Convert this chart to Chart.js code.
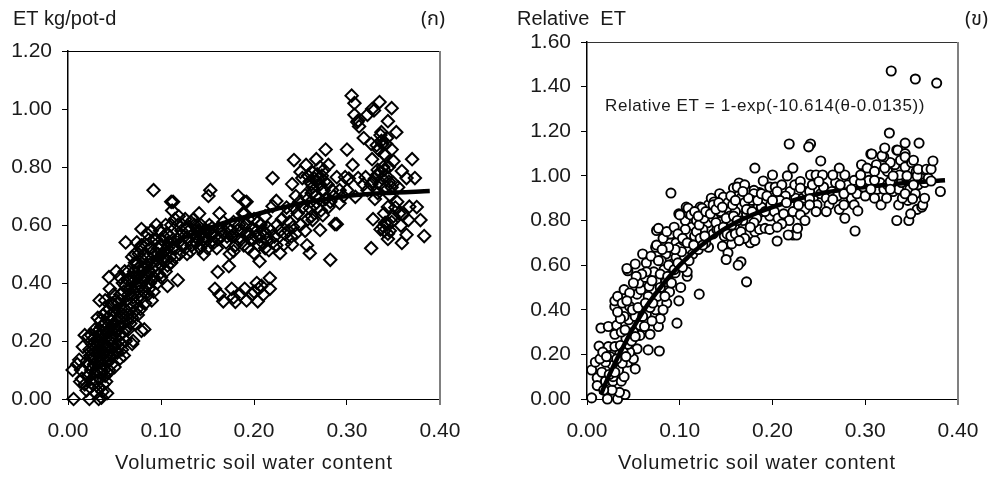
<!DOCTYPE html>
<html>
<head>
<meta charset="utf-8">
<style>
html, body { margin: 0; padding: 0; background: #fff; }
#wrap { position: relative; width: 997px; height: 479px; overflow: hidden; }
canvas { position: absolute; top: 0; }
#chartA { left: 0; }
#chartB { left: 498px; }
</style>
<script src="https://cdn.jsdelivr.net/npm/chart.js@4"></script>
</head>
<body>
<div id="wrap">
    <canvas id="chartA" width="498" height="479"></canvas>
    <canvas id="chartB" width="499" height="479"></canvas>
</div>
<script>
// values: [soil water content, ET]
const pointsA = [
    [0.006,0.00],[0.005,0.10],[0.010,0.12],[0.012,0.135],[0.014,0.10],[0.016,0.18],[0.018,0.22],[0.022,0.215],[0.015,0.07],[0.013,0.06],
    [0.020,0.03],[0.023,0.00],[0.033,0.00],[0.036,0.005],[0.042,0.02],[0.037,0.025],[0.030,0.02],[0.027,0.05],[0.018,0.05],[0.022,0.08],
    [0.025,0.10],[0.028,0.12],[0.020,0.13],[0.024,0.15],[0.027,0.17],[0.030,0.14],[0.032,0.10],[0.034,0.07],[0.038,0.05],[0.040,0.08],
    [0.036,0.10],[0.035,0.13],[0.033,0.16],[0.031,0.19],[0.028,0.21],[0.026,0.19],[0.033,0.22],[0.036,0.19],[0.039,0.16],[0.041,0.13],
    [0.044,0.10],[0.047,0.12],[0.050,0.11],[0.045,0.15],[0.043,0.18],[0.041,0.21],[0.038,0.23],[0.036,0.25],[0.040,0.26],[0.044,0.24],
    [0.047,0.21],[0.050,0.18],[0.053,0.16],[0.056,0.14],[0.058,0.17],[0.060,0.15],[0.055,0.20],[0.052,0.23],[0.049,0.26],[0.046,0.29],
    [0.043,0.28],[0.032,0.28],[0.034,0.34],[0.040,0.34],[0.044,0.42],[0.052,0.44],[0.045,0.38],[0.048,0.33],[0.050,0.30],[0.053,0.27],
    [0.056,0.25],[0.059,0.23],[0.062,0.20],[0.069,0.19],[0.070,0.20],[0.079,0.235],[0.082,0.24],[0.065,0.24],[0.063,0.27],[0.060,0.29],
    [0.057,0.31],[0.054,0.33],[0.056,0.36],[0.060,0.37],[0.063,0.34],[0.066,0.31],[0.069,0.28],[0.072,0.26],[0.075,0.29],[0.078,0.31],
    [0.073,0.33],[0.070,0.35],[0.067,0.38],[0.064,0.41],[0.067,0.42],[0.070,0.42],[0.073,0.39],[0.076,0.37],[0.079,0.35],[0.083,0.33],
    [0.086,0.36],[0.090,0.34],[0.092,0.37],[0.088,0.40],[0.084,0.42],[0.080,0.44],[0.076,0.45],[0.072,0.47],[0.069,0.49],[0.072,0.50],
    [0.076,0.50],[0.080,0.48],[0.084,0.46],[0.088,0.44],[0.092,0.42],[0.096,0.40],[0.100,0.42],[0.107,0.39],[0.118,0.41],[0.105,0.44],
    [0.100,0.46],[0.096,0.48],[0.092,0.50],[0.088,0.52],[0.084,0.53],[0.079,0.53],[0.074,0.54],[0.062,0.54],[0.079,0.586],[0.087,0.55],
    [0.092,0.55],[0.097,0.52],[0.101,0.50],[0.106,0.48],[0.111,0.47],[0.115,0.49],[0.112,0.52],[0.108,0.54],[0.103,0.56],[0.099,0.58],
    [0.095,0.60],[0.090,0.58],[0.085,0.57],[0.092,0.72],[0.111,0.68],[0.113,0.68],[0.151,0.70],[0.153,0.72],[0.183,0.70],[0.190,0.68],
    [0.163,0.64],[0.141,0.64],[0.188,0.64],[0.105,0.60],[0.111,0.60],[0.115,0.62],[0.112,0.65],[0.118,0.60],[0.122,0.58],[0.118,0.55],
    [0.124,0.53],[0.128,0.50],[0.132,0.51],[0.125,0.56],[0.128,0.59],[0.132,0.61],[0.136,0.60],[0.135,0.57],[0.138,0.54],[0.142,0.52],
    [0.146,0.50],[0.150,0.52],[0.145,0.55],[0.148,0.58],[0.143,0.60],[0.152,0.60],[0.156,0.57],[0.154,0.54],[0.160,0.52],[0.158,0.56],
    [0.162,0.59],[0.167,0.61],[0.165,0.56],[0.170,0.54],[0.174,0.50],[0.178,0.51],[0.176,0.56],[0.172,0.59],[0.178,0.61],[0.182,0.58],
    [0.186,0.55],[0.180,0.53],[0.173,0.458],[0.161,0.438],[0.158,0.38],[0.163,0.36],[0.167,0.337],[0.176,0.38],[0.178,0.35],[0.180,0.335],
    [0.190,0.38],[0.192,0.34],[0.185,0.36],[0.217,0.417],[0.203,0.40],[0.205,0.38],[0.217,0.38],[0.204,0.337],[0.198,0.36],[0.208,0.39],
    [0.200,0.37],[0.210,0.36],[0.192,0.57],[0.196,0.55],[0.198,0.59],[0.202,0.56],[0.205,0.53],[0.200,0.503],[0.206,0.475],[0.210,0.58],
    [0.214,0.55],[0.216,0.513],[0.218,0.58],[0.222,0.56],[0.225,0.60],[0.228,0.503],[0.232,0.533],[0.241,0.533],[0.257,0.53],[0.260,0.503],
    [0.282,0.48],[0.192,0.68],[0.190,0.64],[0.200,0.62],[0.207,0.60],[0.212,0.63],[0.220,0.665],[0.224,0.683],[0.235,0.66],[0.247,0.64],
    [0.230,0.62],[0.238,0.61],[0.242,0.593],[0.250,0.60],[0.255,0.58],[0.260,0.658],[0.263,0.617],[0.271,0.583],[0.274,0.634],[0.280,0.662],
    [0.287,0.603],[0.289,0.603],[0.292,0.675],[0.309,0.697],[0.255,0.703],[0.270,0.69],[0.275,0.72],[0.284,0.72],[0.292,0.72],[0.241,0.741],
    [0.262,0.741],[0.250,0.783],[0.252,0.762],[0.268,0.775],[0.271,0.80],[0.275,0.79],[0.256,0.807],[0.280,0.807],[0.243,0.824],[0.267,0.827],
    [0.277,0.86],[0.300,0.86],[0.220,0.762],[0.265,0.76],[0.260,0.75],[0.289,0.765],[0.298,0.765],[0.302,0.76],[0.306,0.807],[0.312,0.762],
    [0.320,0.765],[0.332,0.772],[0.340,0.79],[0.345,0.80],[0.338,0.76],[0.328,0.75],[0.335,0.74],[0.327,0.827],[0.341,0.84],[0.350,0.82],
    [0.370,0.827],[0.359,0.786],[0.364,0.762],[0.373,0.762],[0.350,0.745],[0.355,0.73],[0.346,0.703],[0.330,0.69],[0.354,0.68],[0.344,0.662],
    [0.375,0.662],[0.367,0.663],[0.360,0.635],[0.350,0.63],[0.328,0.62],[0.366,0.617],[0.379,0.617],[0.341,0.607],[0.358,0.598],[0.336,0.585],
    [0.344,0.57],[0.339,0.595],[0.364,0.566],[0.383,0.562],[0.359,0.538],[0.344,0.552],[0.326,0.52],[0.305,1.046],[0.308,1.02],[0.308,0.98],
    [0.312,0.96],[0.313,0.94],[0.311,0.955],[0.322,0.98],[0.327,1.00],[0.329,0.995],[0.335,1.024],[0.348,1.003],[0.344,0.958],[0.353,0.92],
    [0.337,0.92],[0.336,0.91],[0.343,0.90],[0.318,0.90],[0.326,0.88],[0.332,0.875],[0.337,0.89],[0.340,0.845],[0.348,0.86],[0.334,0.86],
    // dense parts of the cloud, read more roughly
    [0.024,0.04],[0.026,0.07],[0.029,0.09],[0.031,0.06],[0.033,0.04],[0.035,0.09],[0.037,0.12],[0.039,0.10],[0.041,0.06],[0.043,0.09],
    [0.029,0.16],[0.032,0.13],[0.034,0.15],[0.036,0.17],[0.038,0.14],[0.040,0.18],[0.042,0.15],[0.044,0.13],[0.046,0.17],[0.048,0.15],
    [0.031,0.23],[0.034,0.24],[0.037,0.21],[0.039,0.19],[0.042,0.23],[0.045,0.20],[0.048,0.19],[0.051,0.21],[0.054,0.18],[0.057,0.19],
    [0.035,0.27],[0.038,0.29],[0.041,0.30],[0.044,0.31],[0.047,0.27],[0.050,0.25],[0.053,0.24],[0.056,0.22],[0.059,0.26],[0.062,0.24],
    [0.023,0.12],[0.026,0.14],[0.023,0.17],[0.025,0.22],[0.029,0.24],[0.030,0.18],[0.046,0.33],[0.049,0.36],[0.052,0.34],[0.055,0.30],
    [0.058,0.28],[0.061,0.31],[0.064,0.29],[0.067,0.26],[0.071,0.30],[0.074,0.31],[0.068,0.33],[0.065,0.36],[0.062,0.39],[0.059,0.40],
    [0.056,0.42],[0.061,0.44],[0.065,0.44],[0.069,0.40],[0.072,0.37],[0.075,0.35],[0.078,0.39],[0.081,0.37],[0.084,0.39],[0.087,0.38],
    [0.082,0.41],[0.079,0.42],[0.075,0.42],[0.071,0.44],[0.074,0.47],[0.078,0.46],[0.082,0.45],[0.086,0.43],[0.090,0.41],[0.094,0.44],
    [0.098,0.43],[0.094,0.46],[0.090,0.47],[0.086,0.49],[0.082,0.50],[0.078,0.52],[0.097,0.50],[0.103,0.48],[0.107,0.46],[0.110,0.49],
    [0.104,0.51],[0.107,0.52],[0.100,0.53],[0.095,0.55],[0.101,0.55],[0.106,0.57],[0.110,0.56],[0.113,0.54],[0.116,0.52],[0.120,0.50],
    [0.122,0.53],[0.126,0.52],[0.120,0.56],[0.123,0.60],[0.119,0.63],[0.126,0.62],[0.130,0.55],[0.133,0.53],[0.137,0.56],[0.140,0.55],
    [0.141,0.58],[0.144,0.57],[0.147,0.56],[0.150,0.55],[0.153,0.57],[0.155,0.59],[0.151,0.58],[0.147,0.54],[0.143,0.53],[0.139,0.58],
    [0.135,0.62],[0.139,0.60],[0.157,0.54],[0.161,0.55],[0.164,0.58],[0.168,0.58],[0.171,0.56],[0.175,0.58],[0.179,0.56],[0.183,0.55],
    [0.187,0.58],[0.191,0.60],[0.195,0.57],[0.199,0.55],[0.203,0.58],[0.206,0.56],[0.209,0.54],[0.212,0.57],[0.215,0.59],[0.220,0.54],
    [0.184,0.60],[0.194,0.62],[0.204,0.61],[0.189,0.53],[0.194,0.52],[0.212,0.52],[0.224,0.53],[0.228,0.58],[0.233,0.57],[0.237,0.58],
    [0.240,0.56],[0.245,0.57],[0.236,0.64],[0.243,0.66],[0.249,0.68],[0.245,0.70],[0.252,0.66],[0.258,0.69],[0.262,0.71],[0.266,0.70],
    [0.263,0.73],[0.267,0.75],[0.271,0.74],[0.258,0.77],[0.263,0.78],[0.269,0.76],[0.273,0.77],[0.276,0.75],[0.279,0.74],[0.268,0.66],
    [0.262,0.63],[0.258,0.62],[0.265,0.67],[0.272,0.65],[0.277,0.69],[0.282,0.68],[0.286,0.70],[0.296,0.70],[0.300,0.72],[0.318,0.74],
    [0.322,0.72],[0.326,0.74],[0.330,0.76],[0.333,0.79],[0.336,0.78],[0.339,0.80],[0.342,0.77],[0.345,0.75],[0.348,0.73],[0.342,0.73],
    [0.333,0.71],[0.340,0.64],[0.343,0.60],[0.346,0.58],[0.348,0.61],[0.340,0.58],[0.352,0.66],[0.356,0.64],[0.338,0.88],[0.342,0.88]
];
const pointsB = [
    [0.005,0.005],[0.022,0.00],[0.033,0.00],[0.041,0.02],[0.035,0.03],[0.027,0.04],[0.005,0.13],[0.009,0.165],[0.011,0.095],[0.011,0.06],
    [0.020,0.08],[0.018,0.04],[0.028,0.08],[0.037,0.08],[0.040,0.10],[0.034,0.13],[0.044,0.165],[0.027,0.155],[0.020,0.165],[0.013,0.237],
    [0.023,0.235],[0.030,0.235],[0.050,0.18],[0.052,0.135],[0.066,0.22],[0.078,0.215],[0.054,0.225],[0.046,0.21],[0.044,0.245],[0.015,0.318],
    [0.023,0.325],[0.032,0.33],[0.030,0.29],[0.045,0.355],[0.040,0.37],[0.047,0.29],[0.057,0.285],[0.057,0.33],[0.062,0.325],[0.068,0.29],
    [0.077,0.325],[0.079,0.36],[0.074,0.40],[0.097,0.34],[0.086,0.43],[0.099,0.44],[0.121,0.47],[0.089,0.48],[0.101,0.50],[0.076,0.46],
    [0.066,0.46],[0.054,0.47],[0.046,0.415],[0.030,0.415],[0.030,0.44],[0.033,0.46],[0.040,0.49],[0.046,0.475],[0.058,0.49],[0.056,0.52],
    [0.063,0.545],[0.067,0.505],[0.075,0.53],[0.072,0.57],[0.085,0.525],[0.095,0.565],[0.108,0.55],[0.108,0.57],[0.044,0.575],[0.043,0.585],
    [0.052,0.605],[0.060,0.65],[0.064,0.61],[0.069,0.64],[0.074,0.68],[0.075,0.69],[0.085,0.65],[0.092,0.605],[0.096,0.635],[0.090,0.70],
    [0.096,0.70],[0.114,0.65],[0.120,0.67],[0.110,0.62],[0.075,0.755],[0.077,0.765],[0.090,0.74],[0.106,0.80],[0.099,0.83],[0.107,0.86],
    [0.110,0.83],[0.113,0.77],[0.110,0.74],[0.106,0.76],[0.119,0.71],[0.130,0.79],[0.122,0.86],[0.131,0.87],[0.134,0.90],[0.143,0.92],
    [0.150,0.88],[0.144,0.84],[0.136,0.81],[0.144,0.795],[0.136,0.74],[0.131,0.68],[0.148,0.73],[0.159,0.77],[0.146,0.685],[0.156,0.695],
    [0.152,0.655],[0.150,0.625],[0.166,0.615],[0.163,0.60],[0.172,0.525],[0.176,0.70],[0.181,0.71],[0.181,0.75],[0.186,0.76],[0.163,0.915],
    [0.175,0.93],[0.158,0.945],[0.186,0.925],[0.175,0.87],[0.165,0.86],[0.186,0.835],[0.154,0.82],[0.0905,0.923],[0.181,1.035],[0.164,0.968],
    [0.162,0.95],[0.180,0.935],[0.180,0.92],[0.147,0.905],[0.137,0.883],[0.152,0.88],[0.166,0.90],[0.124,0.855],[0.109,0.855],[0.100,0.825],
    [0.112,0.825],[0.136,0.87],[0.028,0.10],[0.025,0.19],[0.035,0.20],[0.038,0.16],[0.042,0.27],[0.037,0.30],[0.052,0.37],[0.050,0.30],
    [0.060,0.41],[0.064,0.38],[0.070,0.35],[0.083,0.58],[0.080,0.62],[0.088,0.60],[0.100,0.68],[0.104,0.71],[0.116,0.73],[0.125,0.76],
    [0.128,0.70],[0.140,0.76],[0.153,0.79],[0.168,0.80],[0.172,0.83],[0.160,0.84],[0.178,0.89],[0.170,0.96],[0.155,0.91],[0.118,0.80],
    [0.190,0.977],[0.197,0.95],[0.200,1.004],[0.216,1.00],[0.218,1.143],[0.222,1.035],[0.210,0.96],[0.205,0.93],[0.190,0.89],[0.200,0.89],
    [0.230,0.975],[0.230,0.945],[0.228,0.87],[0.215,0.88],[0.197,0.82],[0.192,0.765],[0.210,0.785],[0.205,0.77],[0.197,0.76],[0.222,0.735],
    [0.226,0.735],[0.217,0.735],[0.205,0.708],[0.230,0.825],[0.235,0.80],[0.227,0.765],[0.241,1.143],[0.239,1.13],[0.252,1.067],[0.241,1.004],
    [0.247,1.004],[0.254,1.004],[0.265,1.004],[0.278,1.004],[0.272,1.035],[0.243,0.96],[0.250,0.975],[0.240,0.897],[0.240,0.87],[0.247,0.84],
    [0.265,0.895],[0.277,0.92],[0.277,0.87],[0.273,0.96],[0.285,0.94],[0.292,0.843],[0.278,0.81],[0.289,0.753],[0.295,0.97],[0.295,1.004],
    [0.296,1.05],[0.302,1.035],[0.306,1.098],[0.307,1.098],[0.310,1.02],[0.310,0.98],[0.306,0.94],[0.310,0.90],[0.317,0.87],[0.323,0.90],
    [0.320,1.085],[0.318,1.09],[0.321,1.125],[0.321,1.035],[0.326,1.192],[0.327,0.975],[0.327,0.94],[0.328,1.47],[0.334,1.116],[0.335,1.115],
    [0.337,1.004],[0.340,0.90],[0.343,1.147],[0.343,1.10],[0.343,1.085],[0.343,1.04],[0.343,0.92],[0.345,1.00],[0.347,0.80],[0.349,0.83],
    [0.334,0.80],[0.350,1.06],[0.351,0.897],[0.352,1.07],[0.352,0.96],[0.354,1.434],[0.355,1.02],[0.356,1.00],[0.357,1.03],[0.358,1.147],
    [0.361,0.86],[0.362,0.87],[0.364,0.90],[0.366,1.03],[0.371,1.03],[0.371,0.977],[0.373,1.067],[0.377,1.416],[0.381,0.93],[0.330,1.00]
];
// dense parts of the right cloud, read more roughly; these stay behind the line
const pointsBDense = [
    [0.016,0.12],[0.014,0.18],[0.017,0.21],[0.021,0.19],[0.024,0.11],[0.030,0.12],[0.032,0.18],[0.036,0.24],[0.039,0.21],[0.042,0.19],
    [0.048,0.26],[0.052,0.28],[0.041,0.31],[0.036,0.36],[0.033,0.39],[0.038,0.43],[0.043,0.44],[0.049,0.40],[0.055,0.41],[0.060,0.37],
    [0.063,0.43],[0.068,0.41],[0.071,0.43],[0.082,0.40],[0.084,0.46],[0.079,0.50],[0.070,0.53],[0.064,0.57],[0.059,0.56],[0.053,0.55],
    [0.050,0.52],[0.079,0.56],[0.087,0.55],[0.091,0.52],[0.094,0.58],[0.098,0.61],[0.103,0.59],[0.105,0.64],[0.102,0.66],[0.095,0.67],
    [0.088,0.68],[0.081,0.67],[0.077,0.62],[0.082,0.72],[0.086,0.75],[0.094,0.77],[0.098,0.74],[0.103,0.72],[0.108,0.70],[0.115,0.69],
    [0.118,0.75],[0.122,0.72],[0.125,0.69],[0.127,0.73],[0.121,0.78],[0.126,0.81],[0.116,0.84],[0.120,0.82],[0.128,0.84],[0.133,0.83],
    [0.139,0.79],[0.142,0.76],[0.147,0.77],[0.151,0.74],[0.155,0.73],[0.160,0.74],[0.156,0.78],[0.150,0.81],[0.158,0.82],[0.162,0.80],
    [0.139,0.85],[0.142,0.88],[0.146,0.86],[0.157,0.87],[0.160,0.89],[0.170,0.88],[0.174,0.90],[0.168,0.93],[0.172,0.85],[0.178,0.84],
    [0.183,0.81],[0.180,0.79],[0.176,0.77],[0.166,0.75],[0.170,0.72],[0.164,0.71],[0.188,0.86],[0.192,0.84],[0.184,0.89],[0.188,0.92],
    [0.194,0.91],[0.198,0.87],[0.202,0.84],[0.206,0.81],[0.212,0.83],[0.218,0.80],[0.222,0.84],[0.225,0.90],[0.219,0.93],[0.214,0.91],
    [0.208,0.89],[0.203,0.95],[0.224,0.96],[0.233,0.90],[0.236,0.93],[0.235,0.85],[0.240,0.93],[0.244,0.90],[0.248,0.87],[0.252,0.92],
    [0.255,0.95],[0.258,0.90],[0.261,0.87],[0.258,0.84],[0.264,0.93],[0.268,0.97],[0.270,0.91],[0.272,0.85],[0.281,0.96],[0.285,0.90],
    [0.288,0.87],[0.291,0.92],[0.288,0.98],[0.298,0.95],[0.300,0.91],[0.304,0.98],[0.313,0.94],[0.316,0.97],[0.320,0.94],[0.324,0.96],
    [0.330,0.93],[0.333,0.96],[0.336,0.94],[0.339,0.97],[0.342,1.00],[0.348,0.94],[0.354,0.92],[0.357,0.96],[0.360,0.99],[0.364,0.97],
    [0.368,0.99],[0.324,1.02],[0.332,1.05],[0.338,1.07],[0.348,1.03],[0.327,1.06],[0.312,1.05],[0.346,0.89],[0.356,0.85],[0.336,0.87]
];
const curveA = [
    [0.020,0.04],[0.030,0.13],[0.040,0.21],[0.050,0.28],[0.070,0.39],[0.085,0.45],[0.100,0.50],[0.120,0.55],[0.140,0.575],[0.170,0.61],
    [0.200,0.635],[0.230,0.66],[0.260,0.68],[0.300,0.70],[0.340,0.71],[0.389,0.717]
];
const curveB = [
    [0.015,0.02],[0.020,0.07],[0.030,0.16],[0.050,0.32],[0.070,0.45],[0.100,0.60],[0.130,0.71],[0.160,0.79],[0.200,0.86],[0.250,0.92],
    [0.300,0.95],[0.350,0.97],[0.386,0.98]
];
const maxA = 1.2;
const maxB = 1.6;
const overLineFrom = 0.2; // from here on the markers sit on top of the fitted line

const textFont = '"Liberation Sans", Arial, sans-serif';
const thaiFont = '"Noto Sans", "Noto Sans Thai", "DejaVu Sans", sans-serif';

function toXY(list) {
    return list.map(p => ({ x: p[0], y: p[1] }));
}

// texts and frame that chart.js has no option for
function extrasPlugin(labels, topColor) {
    return {
        id: 'extras',
        afterDraw(chart) {
            const ctx = chart.ctx, a = chart.chartArea;
            ctx.save();
            ctx.strokeStyle = topColor;
            ctx.lineWidth = 1;
            ctx.beginPath();
            ctx.moveTo(a.left, a.top + 0.5);
            ctx.lineTo(a.right, a.top + 0.5);
            ctx.stroke();
            ctx.strokeStyle = '#808080';
            ctx.lineWidth = 2;
            ctx.beginPath();
            ctx.moveTo(a.right, a.top);
            ctx.lineTo(a.right, a.bottom + 6);
            ctx.stroke();
            ctx.fillStyle = '#1a1a1a';
            ctx.textBaseline = 'alphabetic';
            labels.forEach(l => {
                ctx.font = l.size + 'px ' + (l.font || textFont);
                ctx.letterSpacing = l.spacing || '0px';
                ctx.textAlign = l.align || 'left';
                ctx.fillText(l.text, l.x, l.y);
            });
            ctx.restore();
        }
    };
}

function makeChart(id, points, behind, curve, maxY, marker, left, plotWidth, top, labels, topColor) {
    const canvas = document.getElementById(id);
    const under = points.filter(p => p[0] < overLineFrom).concat(behind);
    const over = points.filter(p => p[0] >= overLineFrom);
    new Chart(canvas.getContext('2d'), {
        type: 'scatter',
        data: {
            datasets: [
                Object.assign({ data: toXY(under), order: 3, clip: false }, marker),
                {
                    data: toXY(curve),
                    showLine: true,
                    tension: 0.3,
                    pointRadius: 0,
                    borderColor: '#000',
                    borderWidth: 4.5,
                    order: 2
                },
                Object.assign({ data: toXY(over), order: 1, clip: false }, marker)
            ]
        },
        options: {
            responsive: false,
            animation: false,
            events: [],
            layout: { padding: { left: 0, top: top, right: canvas.width - left - plotWidth, bottom: 0 } },
            plugins: { legend: { display: false }, tooltip: { enabled: false } },
            scales: {
                x: {
                    min: 0,
                    max: 0.4,
                    afterFit: s => { s.height = 80; },
                    border: { color: '#000', width: 1 },
                    grid: { drawOnChartArea: false, color: '#000', tickLength: 6 },
                    ticks: {
                        stepSize: 0.1,
                        padding: 14,
                        maxRotation: 0,
                        autoSkip: false,
                        color: '#1a1a1a',
                        font: { family: textFont, size: 21 },
                        callback: v => v.toFixed(2)
                    }
                },
                y: {
                    min: 0,
                    max: maxY,
                    afterFit: s => { s.width = left; },
                    border: { color: '#000', width: 1.5 },
                    grid: { drawOnChartArea: false, color: '#000', tickLength: 6 },
                    ticks: {
                        stepSize: 0.2,
                        padding: 10,
                        autoSkip: false,
                        color: '#1a1a1a',
                        font: { family: textFont, size: 21 },
                        callback: v => v.toFixed(2)
                    }
                }
            }
        },
        plugins: [extrasPlugin(labels, topColor)]
    });
}

makeChart('chartA', pointsA, [], curveA, maxA,
    { pointStyle: 'rectRot', pointRadius: 6.2, pointBorderWidth: 2, pointBorderColor: '#000', pointBackgroundColor: 'rgba(255,255,255,0)' },
    68, 372, 51,
    [
        { text: 'ET kg/pot-d', x: 13, y: 25, size: 20 },
        { text: '(ก)', x: 421, y: 25, size: 20, font: thaiFont },
        { text: 'Volumetric soil water content', x: 254, y: 469, size: 20, align: 'center', spacing: '0.8px' }
    ],
    '#000');

makeChart('chartB', pointsB, pointsBDense, curveB, maxB,
    { pointStyle: 'circle', pointRadius: 4.6, pointBorderWidth: 1.9, pointBorderColor: '#000', pointBackgroundColor: '#fff' },
    89, 371, 42,
    [
        { text: 'Relative  ET', x: 19, y: 25, size: 20 },
        { text: '(ข)', x: 467, y: 25, size: 20, font: thaiFont },
        { text: 'Volumetric soil water content', x: 259, y: 469, size: 20, align: 'center', spacing: '0.8px' },
        { text: 'Relative ET = 1-exp(-10.614(θ-0.0135))', x: 107, y: 111, size: 17, spacing: '0.6px' }
    ],
    '#333');
</script>
</body>
</html>
